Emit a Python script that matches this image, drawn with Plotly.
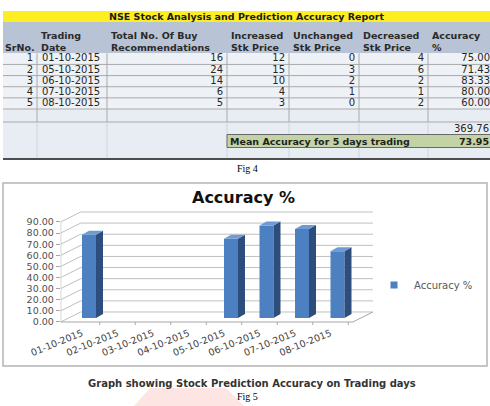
import plotly.graph_objects as go

W, H = 490, 406
FONT = "DejaVu Sans"
SERIF = "Liberation Serif"

# ---------------- data ----------------
report_title = "NSE Stock Analysis and Prediction Accuracy Report"
header_top = ["", "Trading", "Total No. Of Buy", "Increased", "Unchanged", "Decreased", "Accuracy"]
header_bottom = ["SrNo.", "Date", "Recommendations", "Stk Price", "Stk Price", "Stk Price", "%"]
sr_no = [1, 2, 3, 4, 5]
trading_dates = ["01-10-2015", "05-10-2015", "06-10-2015", "07-10-2015", "08-10-2015"]
total_buy = [16, 24, 14, 6, 5]
increased = [12, 15, 10, 4, 3]
unchanged = [0, 3, 2, 1, 0]
decreased = [4, 6, 2, 1, 2]
accuracy = [75.00, 71.43, 83.33, 80.00, 60.00]
accuracy_total = 369.76
mean_accuracy = 73.95
mean_label = "Mean Accuracy for 5 days trading"

chart_title = "Accuracy %"
series_name = "Accuracy %"
chart_dates = ["01-10-2015", "02-10-2015", "03-10-2015", "04-10-2015",
               "05-10-2015", "06-10-2015", "07-10-2015", "08-10-2015"]
y_ticks = [0, 10, 20, 30, 40, 50, 60, 70, 80, 90]
caption = "Graph showing Stock Prediction Accuracy on Trading days"
fig4_label = "Fig 4"
fig5_label = "Fig 5"

# ---------------- layout geometry (pixels) ----------------
COL_EDGES = [3, 37, 107, 227, 289, 359, 428, 490]
TITLE_Y0, TITLE_Y1 = 11, 21.7
HEAD_Y1 = 53.3
ROW_H = 11.14
LOWER_EDGES = [53.3 + ROW_H * 5, 122, 134.5, 147.5, 159]

fig = go.Figure()
shapes, annos = [], []


def px_rect(x0, y0, x1, y1, fill, line=None, lw=0):
    shapes.append(dict(type="rect", xref="x3", yref="y3", x0=x0, y0=y0, x1=x1, y1=y1,
                       fillcolor=fill, line=dict(color=line or fill, width=lw), layer="below"))


def px_line(x0, y0, x1, y1, color, w=1):
    shapes.append(dict(type="line", xref="x3", yref="y3", x0=x0, y0=y0, x1=x1, y1=y1,
                       line=dict(color=color, width=w), layer="below"))


def px_text(x, y, text, size, color="#262626", bold=False, anchor="left", family=FONT):
    annos.append(dict(xref="x3", yref="y3", x=x, y=y, text=f"<b>{text}</b>" if bold else text,
                      showarrow=False, xanchor=anchor, yanchor="middle", borderpad=0,
                      font=dict(family=family, size=size, color=color)))


# ---------------- table ----------------
L, R = COL_EDGES[0], COL_EDGES[-1]
px_rect(L, TITLE_Y0, R, TITLE_Y1, "#FCEE21")
px_rect(L, TITLE_Y1, R, HEAD_Y1, "#B8C3D6")
px_rect(L, HEAD_Y1, R, LOWER_EDGES[0], "#EEF1F6")
px_rect(L, LOWER_EDGES[0], R, LOWER_EDGES[-1], "#E8EDF4")
for k in range(1, len(sr_no) + 1):
    yy = HEAD_Y1 + ROW_H * k
    px_line(L, yy, R, yy, "#A9A9A9")
px_line(L, LOWER_EDGES[1], R, LOWER_EDGES[1], "#A9A9A9")
for e in COL_EDGES[1:-1]:
    px_line(e, HEAD_Y1, e, LOWER_EDGES[1], "#A9A9A9")
    px_line(e, LOWER_EDGES[1], e, LOWER_EDGES[-1], "#CED4DE")
px_rect(COL_EDGES[3], LOWER_EDGES[2], R + 2, LOWER_EDGES[3], "#C3D3A6", line="#6A6A6A", lw=1)
px_line(L, LOWER_EDGES[-1], R, LOWER_EDGES[-1], "#4D4D4D", 2)

px_text((L + R) / 2, (TITLE_Y0 + TITLE_Y1) / 2, report_title, 9.5, "#1A1A1A", bold=True, anchor="center")
for j in range(len(COL_EDGES) - 1):
    xl = COL_EDGES[j] + (0.5 if j == 0 else 3)
    if header_top[j]:
        px_text(xl, 35, header_top[j], 9.5, "#2A2A2A", bold=True)
    px_text(xl, 47.5, header_bottom[j], 9.5, "#2A2A2A", bold=True)

row_c = [HEAD_Y1 + ROW_H * (k + 0.5) for k in range(len(sr_no))]
cols = [sr_no, trading_dates, total_buy, increased, unchanged, decreased,
        [f"{a:.2f}" for a in accuracy]]
for j, vals in enumerate(cols):
    if j == 1:
        fig.add_trace(go.Scatter(x=[COL_EDGES[1] + 5] * len(vals), y=row_c, text=[str(v) for v in vals],
                                 mode="text", textposition="middle right", xaxis="x3", yaxis="y3",
                                 textfont=dict(family=FONT, size=10, color="#262626"),
                                 showlegend=False, hoverinfo="skip"))
    else:
        xr = COL_EDGES[j + 1] - (0 if j == 6 else 4)
        fig.add_trace(go.Scatter(x=[xr] * len(vals), y=row_c, text=[str(v) for v in vals],
                                 mode="text", textposition="middle left", xaxis="x3", yaxis="y3",
                                 textfont=dict(family=FONT, size=10, color="#262626"),
                                 showlegend=False, hoverinfo="skip"))
px_text(R - 0.5, (LOWER_EDGES[1] + LOWER_EDGES[2]) / 2, f"{accuracy_total:.2f}", 10, "#262626", anchor="right")
px_text(COL_EDGES[3] + 2, (LOWER_EDGES[2] + LOWER_EDGES[3]) / 2, mean_label, 9.5, "#1F1F1F", bold=True)
px_text(R - 0.5, (LOWER_EDGES[2] + LOWER_EDGES[3]) / 2, f"{mean_accuracy:.2f}", 9.5, "#1F1F1F", bold=True, anchor="right")
px_text(247, 168, fig4_label, 10, "#000000", family=SERIF, anchor="center")

# ---------------- chart ----------------
px_rect(3, 183, 487, 366, "rgba(0,0,0,0)", line="#B4B4B4", lw=1.5)
px_text(243, 197, chart_title, 16, "#111111", bold=True, anchor="center")
px_text(252, 383, caption, 10, "#333333", bold=True, anchor="center")
px_text(247, 396, fig5_label, 10, "#000000", family=SERIF, anchor="center")
shapes.append(dict(type="path", xref="x3", yref="y3", path="M 150 388 L 226 388 L 244 406 L 134 406 Z",
                   fillcolor="rgba(240,110,100,0.18)", line=dict(width=0), layer="below"))

KX, X0PX = 35.5, 82.0
KY, Y0PX = 100 / 90, 322.0
XR = [-0.6, 8.3]
YR = [-3, 102]
xdom = [(X0PX + XR[0] * KX) / W, (X0PX + XR[1] * KX) / W]
ydom = [1 - (Y0PX - YR[0] * KY) / H, 1 - (Y0PX - YR[1] * KY) / H]
WALL_DX, WALL_DY = 20 / KX, 10 / KY
X_LEFT = XR[0]
FLOOR_RIGHT = len(chart_dates) - 0.37
GRID = "#BFBFBF"


def ax_line(x0, y0, x1, y1, color=GRID, w=1):
    shapes.append(dict(type="line", xref="x", yref="y", x0=x0, y0=y0, x1=x1, y1=y1,
                       line=dict(color=color, width=w), layer="below"))


for v in y_ticks:
    ax_line(X_LEFT + WALL_DX, v + WALL_DY, FLOOR_RIGHT + WALL_DX, v + WALL_DY)
    ax_line(X_LEFT, v, X_LEFT + WALL_DX, v + WALL_DY)
ax_line(X_LEFT, y_ticks[0], X_LEFT, y_ticks[-1], "#A6A6A6")
ax_line(X_LEFT, 0, FLOOR_RIGHT, 0, "#A6A6A6")
ax_line(FLOOR_RIGHT, 0, FLOOR_RIGHT + WALL_DX, WALL_DY, "#A6A6A6")
for i in range(len(chart_dates)):
    ax_line(i + 0.5, 0, i + 0.5, -2.7, "#A6A6A6")

acc_by_date = dict(zip(trading_dates, accuracy))
bar_idx = [i for i, d in enumerate(chart_dates) if d in acc_by_date]
bar_val = [acc_by_date[chart_dates[i]] for i in bar_idx]

BAR_W = 14 / KX
BAR_BASE = 3.6
BAR_DX, BAR_DY = 7 / KX, 4 / KY
FRONT, SIDE, TOP = "#4C80C0", "#2D4E7C", "#6E9BD4"

fig.add_trace(go.Bar(x=[i + BAR_W / 2 for i in bar_idx], y=bar_val, base=BAR_BASE, width=BAR_W,
                     marker=dict(color=FRONT, line=dict(width=0)), showlegend=False,
                     hoverinfo="skip", xaxis="x", yaxis="y"))
sx, sy, tx, ty = [], [], [], []
for i, v in zip(bar_idx, bar_val):
    xl, xr = i, i + BAR_W
    b, t = BAR_BASE, BAR_BASE + v
    sx += [xr, xr + BAR_DX, xr + BAR_DX, xr, xr, None]
    sy += [b, b + BAR_DY, t + BAR_DY, t, b, None]
    tx += [xl, xl + BAR_DX, xr + BAR_DX, xr, xl, None]
    ty += [t, t + BAR_DY, t + BAR_DY, t, t, None]
fig.add_trace(go.Scatter(x=sx, y=sy, fill="toself", fillcolor=SIDE, mode="lines", line=dict(width=0),
                         showlegend=False, hoverinfo="skip", xaxis="x", yaxis="y"))
fig.add_trace(go.Scatter(x=tx, y=ty, fill="toself", fillcolor=TOP, mode="lines", line=dict(width=0),
                         showlegend=False, hoverinfo="skip", xaxis="x", yaxis="y"))
fig.add_trace(go.Scatter(x=[None], y=[None], mode="markers", name=series_name,
                         marker=dict(symbol="square", size=7, color=FRONT), xaxis="x", yaxis="y"))

fig.update_layout(
    width=W, height=H, margin=dict(l=0, r=0, t=0, b=0),
    paper_bgcolor="white", plot_bgcolor="rgba(0,0,0,0)", template="none",
    showlegend=True,
    legend=dict(x=374 / W, y=1 - 285 / H, xanchor="left", yanchor="middle",
                font=dict(family=FONT, size=10, color="#595959"), bgcolor="rgba(0,0,0,0)"),
    xaxis=dict(domain=xdom, range=XR, tickvals=list(range(len(chart_dates))), ticktext=chart_dates,
               tickangle=-22, ticks="", showgrid=False, zeroline=False, showline=False,
               tickfont=dict(family=FONT, size=9.5, color="#404040"), anchor="y", fixedrange=True),
    yaxis=dict(domain=ydom, range=YR, tickvals=y_ticks, ticktext=[f"{v:.2f}" for v in y_ticks],
               ticks="outside", ticklen=4, tickcolor="#A6A6A6", showgrid=False, zeroline=False,
               showline=False, tickfont=dict(family=FONT, size=9.5, color="#505050"),
               anchor="x", fixedrange=True),
    xaxis3=dict(domain=[0, 1], range=[0, W], visible=False, anchor="y3", fixedrange=True),
    yaxis3=dict(domain=[0, 1], range=[H, 0], visible=False, anchor="x3", fixedrange=True),
    shapes=shapes, annotations=annos,
)

fig.write_html("out.html")
